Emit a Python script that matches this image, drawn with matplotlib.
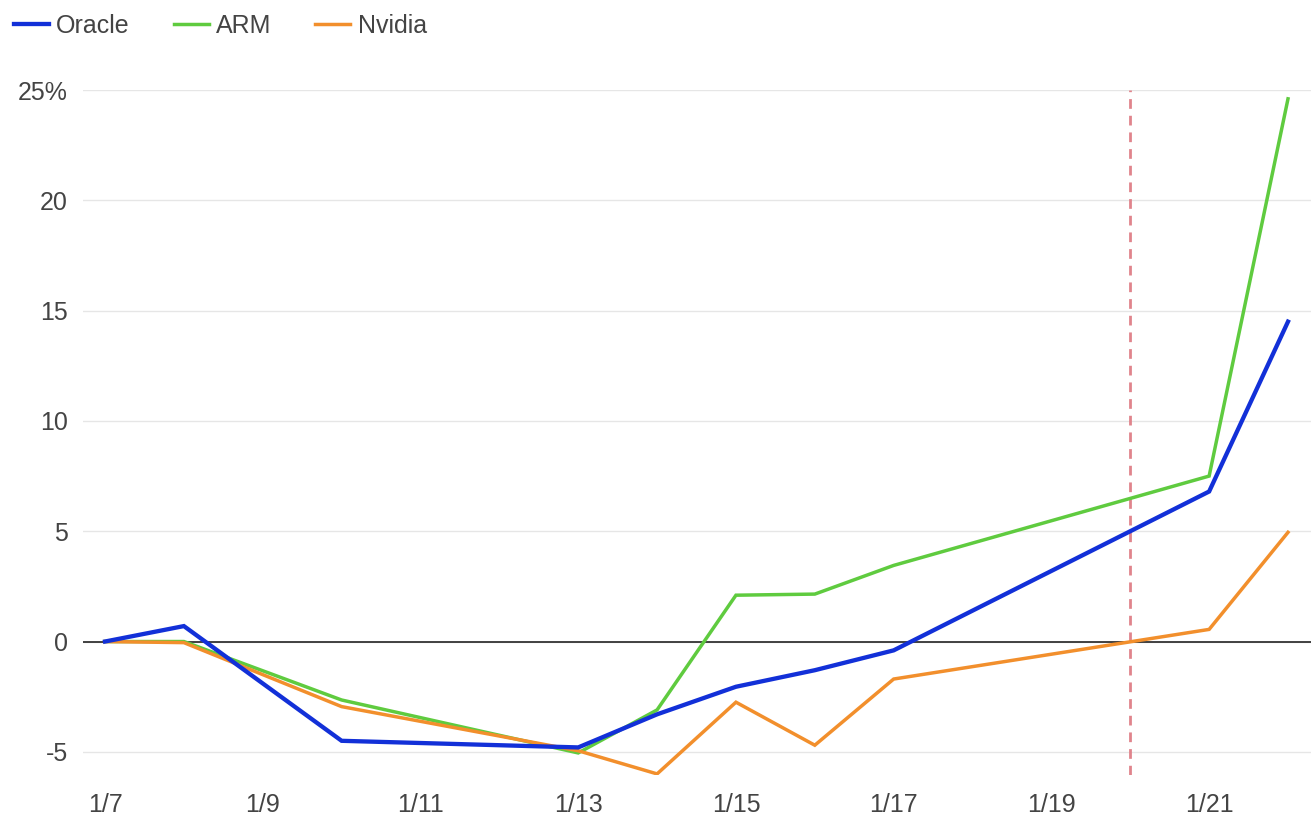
import matplotlib
matplotlib.use("Agg")
import matplotlib.pyplot as plt
import matplotlib.dates as mdates
from matplotlib.ticker import FuncFormatter
import pandas as pd

dates = ["2025-01-07", "2025-01-08", "2025-01-10", "2025-01-13", "2025-01-14",
         "2025-01-15", "2025-01-16", "2025-01-17", "2025-01-21", "2025-01-22"]
oracle = [0.0, 0.7, -4.5, -4.8, -3.3, -2.05, -1.3, -0.4, 6.8, 14.5]
arm = [0.0, 0.0, -2.65, -5.05, -3.1, 2.1, 2.15, 3.45, 7.5, 24.6]
nvidia = [0.0, -0.05, -2.95, -4.95, -6.0, -2.75, -4.7, -1.7, 0.55, 4.95]
marker_date = "2025-01-20"
yticks = [-5, 0, 5, 10, 15, 20, 25]

plt.rcParams["font.family"] = ["Liberation Sans", "DejaVu Sans"]

x = pd.to_datetime(dates)

fig = plt.figure(figsize=(13.11, 8.23), dpi=100)
ax = fig.add_axes([83 / 1311, 1 - 775 / 823, 1 - 83 / 1311, (775 - 90) / 823])

ax.plot(x, arm, color="#5fcb3f", lw=2.5, label="ARM", zorder=3, solid_joinstyle="miter")
ax.plot(x, nvidia, color="#f28f2c", lw=2.5, label="Nvidia", zorder=3, solid_joinstyle="miter")
ax.plot(x, oracle, color="#1230d8", lw=3.1, label="Oracle", zorder=4, solid_joinstyle="miter")

ax.axhline(0, color="#333333", lw=1.3, zorder=2)
ax.axvline(pd.Timestamp(marker_date), color="#e0848c", lw=2, ls=(0, (3.5, 2.5)), zorder=1)

ax.set_ylim(-6.05, 25)
ax.set_xlim(x[0] - pd.Timedelta(hours=6.7), x[-1] + pd.Timedelta(hours=7))
ax.set_yticks(yticks)
ax.yaxis.set_major_formatter(FuncFormatter(lambda v, p: f"{int(v)}%" if v == 25 else f"{int(v)}"))
ax.xaxis.set_major_locator(mdates.DayLocator(bymonthday=range(7, 32, 2)))
ax.xaxis.set_major_formatter(FuncFormatter(lambda v, p: f"{mdates.num2date(v).month}/{mdates.num2date(v).day}"))

ax.grid(axis="y", color="#e6e6e6", lw=1)
ax.set_axisbelow(True)
for s in ax.spines.values():
    s.set_visible(False)
ax.tick_params(length=0, labelsize=18, colors="#444444")
ax.tick_params(axis="y", pad=11)
ax.tick_params(axis="x", pad=13)

h, l = ax.get_legend_handles_labels()
order = [2, 0, 1]
fig.legend([h[i] for i in order], [l[i] for i in order], loc="upper left",
           bbox_to_anchor=(0.0, 1.0), ncol=3, frameon=False, fontsize=18,
           handlelength=1.4, handletextpad=0.3, columnspacing=1.75,
           borderaxespad=0.15, labelcolor="#444444")

fig.savefig("out.png", dpi=100)
